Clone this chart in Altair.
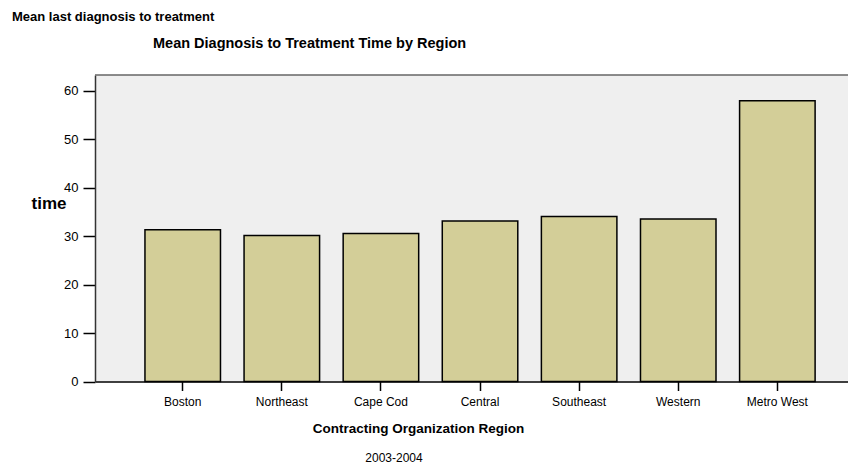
import altair as alt
import pandas as pd

regions = ["Boston", "Northeast", "Cape Cod", "Central", "Southeast", "Western", "Metro West"]
mean_time = [31.3, 30.1, 30.5, 33.1, 34.0, 33.5, 57.9]
y_ticks = [0, 10, 20, 30, 40, 50, 60]

title_main = "Mean last diagnosis to treatment"
title_sub = "Mean Diagnosis to Treatment Time by Region"
footnote = "2003-2004"

df = pd.DataFrame({"region": regions, "time": mean_time})

FONT = "Liberation Sans"
W = 753
H = 306.5

bars = alt.Chart(df).mark_bar(
    color="#d3ce98", stroke="#000000", strokeWidth=1.5
).encode(
    x=alt.X("region:N", sort=regions,
            scale=alt.Scale(paddingInner=0.238, paddingOuter=0.418, align=0.603),
            axis=alt.Axis(title="Contracting Organization Region", labelAngle=0,
                          labelFontSize=12, labelColor="#000000", labelPadding=6,
                          tickSize=9, tickColor="#000000", tickWidth=1.5,
                          domainColor="#000000", domainWidth=1.5,
                          titleFontSize=13.5, titleFontWeight="bold", titleColor="#000000",
                          titleX=323, titleY=47, titleAlign="center", titleBaseline="middle")),
    y=alt.Y("time:Q", scale=alt.Scale(domain=[0, 63.2], nice=False, zero=True),
            axis=alt.Axis(title="time", values=y_ticks, grid=False,
                          labelFontSize=13, labelColor="#000000", labelPadding=5,
                          tickSize=12, tickColor="#000000", tickWidth=1.5,
                          domainColor="#333333", domainWidth=1.5,
                          titleFontSize=17, titleFontWeight="bold", titleColor="#000000",
                          titleAngle=0, titleAlign="right", titleBaseline="alphabetic",
                          titleX=-29, titleY=133)),
)

top_line = alt.Chart(pd.DataFrame({"t": [0]})).mark_rule(
    color="#666666", strokeWidth=1.5
).encode(x=alt.value(0), x2=alt.value(W), y=alt.value(0))

t1 = alt.Chart(pd.DataFrame({"t": [title_main]})).mark_text(
    align="left", baseline="alphabetic", fontSize=13, fontWeight="bold", font=FONT, color="#000000"
).encode(text="t:N", x=alt.value(-83), y=alt.value(-54))

t2 = alt.Chart(pd.DataFrame({"t": [title_sub]})).mark_text(
    align="left", baseline="alphabetic", fontSize=14.5, fontWeight="bold", font=FONT, color="#000000"
).encode(text="t:N", x=alt.value(58), y=alt.value(-27))

t3 = alt.Chart(pd.DataFrame({"t": [footnote]})).mark_text(
    align="center", baseline="alphabetic", fontSize=12, font=FONT, color="#000000"
).encode(text="t:N", x=alt.value(299), y=alt.value(387))

chart = alt.layer(bars, top_line, t1, t2, t3).properties(
    width=W, height=H,
    autosize=alt.AutoSizeParams(type="none"),
    padding={"left": 87, "top": 67, "right": 0, "bottom": 86},
    background="#ffffff",
).configure_view(
    fill="#efefef", strokeWidth=0
).configure_axis(
    labelFont=FONT, titleFont=FONT
)

chart.save("out.html", embed_options={"renderer": "svg", "actions": False})
